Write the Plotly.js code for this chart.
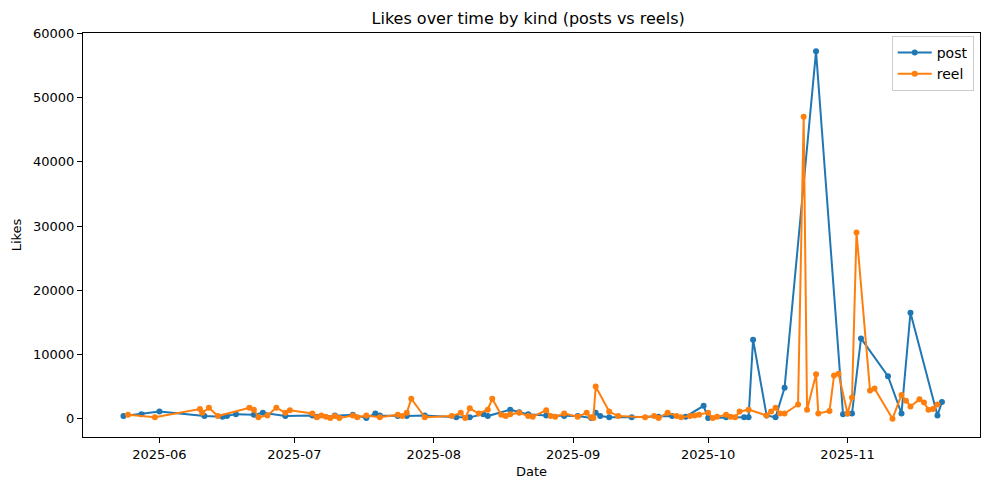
<!DOCTYPE html>
<html><head><meta charset="utf-8">
<script src="https://cdn.plot.ly/plotly-3.0.1.min.js"></script>
<style>html,body{margin:0;padding:0;background:#fff}#chart{width:989px;height:490px}</style>
</head><body><div id="chart"></div>
<script>
const postDates = ["2025-05-24","2025-05-28","2025-06-01","2025-06-11","2025-06-15","2025-06-16","2025-06-18","2025-06-22","2025-06-24","2025-06-29",
"2025-07-05","2025-07-06","2025-07-10","2025-07-14","2025-07-17","2025-07-19","2025-07-20","2025-07-24","2025-07-26","2025-07-30",
"2025-08-06","2025-08-09","2025-08-12","2025-08-13","2025-08-18","2025-08-20","2025-08-22","2025-08-26","2025-08-30",
"2025-09-02","2025-09-05","2025-09-06","2025-09-07","2025-09-09","2025-09-14","2025-09-20","2025-09-23","2025-09-26","2025-09-30",
"2025-10-01","2025-10-05","2025-10-09","2025-10-10","2025-10-11","2025-10-14","2025-10-16","2025-10-18","2025-10-25","2025-10-31",
"2025-11-01","2025-11-02","2025-11-04","2025-11-10","2025-11-13","2025-11-15","2025-11-21","2025-11-22"];
const postLikes = [400,700,1100,400,300,400,700,600,900,400,
500,300,500,600,100,800,500,400,400,500,
200,200,700,400,1400,1000,700,500,400,
400,100,900,400,200,200,300,400,300,2000,
100,200,200,200,12300,500,200,4800,57200,700,
800,800,12500,6600,800,16500,500,2600];

const reelDates = ["2025-05-25","2025-05-31","2025-06-10 00:00","2025-06-10 12:00","2025-06-12","2025-06-14","2025-06-21","2025-06-22","2025-06-23","2025-06-25","2025-06-27","2025-06-29","2025-06-30",
"2025-07-05","2025-07-06","2025-07-07","2025-07-08","2025-07-09","2025-07-10","2025-07-11","2025-07-14","2025-07-15","2025-07-17","2025-07-20","2025-07-24","2025-07-25","2025-07-26","2025-07-27","2025-07-30",
"2025-08-05","2025-08-07","2025-08-08","2025-08-09","2025-08-11","2025-08-13","2025-08-14","2025-08-16","2025-08-17","2025-08-18","2025-08-20","2025-08-22","2025-08-23","2025-08-26","2025-08-27","2025-08-28","2025-08-30",
"2025-09-02","2025-09-04","2025-09-05 00:00","2025-09-05 12:00","2025-09-06","2025-09-09","2025-09-11","2025-09-17","2025-09-19","2025-09-20","2025-09-22","2025-09-24","2025-09-25","2025-09-27","2025-09-28","2025-09-29",
"2025-10-01","2025-10-02","2025-10-03","2025-10-05","2025-10-06","2025-10-07","2025-10-08","2025-10-10","2025-10-14","2025-10-15","2025-10-16","2025-10-17","2025-10-18","2025-10-21","2025-10-22 06:00","2025-10-23","2025-10-25 00:00","2025-10-25 12:00","2025-10-28","2025-10-29","2025-10-30",
"2025-11-01","2025-11-02","2025-11-03","2025-11-06","2025-11-07","2025-11-11","2025-11-13","2025-11-14","2025-11-15","2025-11-17","2025-11-18","2025-11-19","2025-11-20","2025-11-21"];
const reelLikes = [600,200,1500,900,1700,400,1700,1400,200,500,1700,900,1300,
800,200,500,300,100,400,100,500,200,500,200,600,400,900,3100,200,
400,900,100,1600,800,1400,3100,600,400,700,900,400,300,1300,400,300,800,
300,900,200,100,5000,1100,400,200,400,100,900,400,200,400,500,600,
900,100,300,600,300,200,1100,1400,500,1100,1700,800,800,2200,47000,1400,6900,800,1200,6700,7000,
800,3300,29000,4400,4700,0,3700,2800,1900,3000,2500,1400,1500,2200];

const seriesNames = ["post","reel"];
const colors = ["#1f77b4","#ff7f0e"];

const font = {family:"DejaVu Sans, sans-serif", color:"#000"};
const traces = [[postDates,postLikes],[reelDates,reelLikes]].map((s,i)=>({
  x:s[0], y:s[1], name:seriesNames[i], type:"scatter", mode:"lines+markers",
  line:{color:colors[i], width:2}, marker:{color:colors[i], size:6}
}));

const axisCommon = {showgrid:false, zeroline:false, showline:true, linecolor:"#000", linewidth:1, mirror:true,
  ticks:"outside", ticklen:5, tickwidth:1, tickcolor:"#000", tickfont:{...font, size:13}};

const layout = {
  width:989, height:490, paper_bgcolor:"#fff", plot_bgcolor:"#fff",
  margin:{l:83, r:9, t:33, b:53},
  title:{text:"Likes over time by kind (posts vs reels)", font:{...font, size:16}, x:0.534, xanchor:"center", y:0.962, yanchor:"middle"},
  xaxis:{...axisCommon, type:"date", range:["2025-05-15","2025-11-30 11:00"], dtick:"M1", tick0:"2025-06-01", tickformat:"%Y-%m",
    title:{text:"Date", font:{...font, size:13}, standoff:6}},
  yaxis:{...axisCommon, range:[-2860,60060], dtick:10000, tickformat:"d",
    title:{text:"Likes", font:{...font, size:13}, standoff:8}},
  legend:{x:0.993, y:0.993, xanchor:"right", yanchor:"top", bgcolor:"rgba(255,255,255,0.8)", bordercolor:"#ccc", borderwidth:1,
    font:{...font, size:14}, itemwidth:34, tracegroupgap:2},
  showlegend:true
};
Plotly.newPlot("chart", traces, layout, {displayModeBar:false, staticPlot:true});
</script></body></html>
